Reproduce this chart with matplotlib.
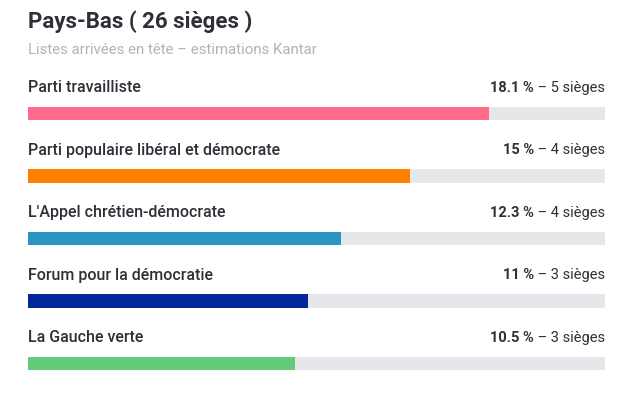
import matplotlib.pyplot as plt

# data
parties = ["Parti travailliste", "Parti populaire libéral et démocrate",
           "L'Appel chrétien-démocrate", "Forum pour la démocratie", "La Gauche verte"]
scores = [18.1, 15, 12.3, 11, 10.5]
score_labels = ["18.1 %", "15 %", "12.3 %", "11 %", "10.5 %"]
seats = [5, 4, 4, 3, 3]
colors = ["#ff6a8d", "#ff7f00", "#2a95c3", "#00279b", "#64cb78"]
xmax = 22.65

plt.rcParams['font.family'] = ['Roboto', 'DejaVu Sans']
txt = "#2e3038"

fig = plt.figure(figsize=(6.33, 3.99), dpi=100)
W, H = 633, 399
top_px, bot_px = 69, 375.5
ax = fig.add_axes([28 / W, 1 - bot_px / H, 577 / W, (bot_px - top_px) / H])
ax.set_xlim(0, xmax)
ax.set_ylim(4.6, -0.3)
ax.axis('off')

ypos = range(len(parties))
bar_y = [i + 0.41 for i in ypos]
ax.barh(bar_y, [xmax] * len(parties), height=0.22, color="#e6e7eb", left=0)
ax.barh(bar_y, scores, height=0.22, color=colors)

fig.text(28 / W, 1 - 22 / H, "Pays-Bas ( 26 sièges )", fontsize=16, fontweight='bold',
         color=txt, va='center')
fig.text(28 / W, 1 - 49.5 / H, "Listes arrivées en tête – estimations Kantar", fontsize=10.8,
         color="#b3b3b3", va='center')

right_parts = []
for i, name in enumerate(parties):
    ax.text(0, i, name, fontsize=11.5, fontweight='medium', color=txt, va='center', ha='left')
    t = ax.text(xmax, i, f" – {seats[i]} sièges", fontsize=10.5, color=txt, va='center', ha='right')
    right_parts.append(t)

fig.canvas.draw()
r = fig.canvas.get_renderer()
for i, t in enumerate(right_parts):
    w = t.get_window_extent(r).width
    ax.annotate(score_labels[i], xy=(xmax, i), xytext=(-w, 0), textcoords='offset pixels',
                fontsize=10.5, fontweight='bold', color=txt, va='center', ha='right')

fig.savefig("out.png", dpi=100, facecolor="white")
